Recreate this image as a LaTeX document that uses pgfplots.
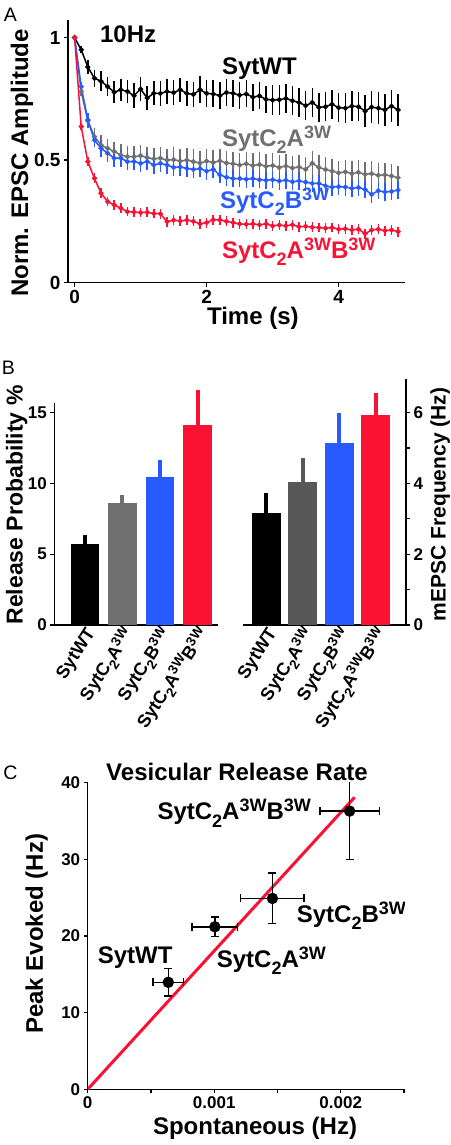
\documentclass[border=0pt]{standalone}
\usepackage{fontspec}
\setmainfont{Liberation Sans}
\usepackage{graphicx}
\usepackage{pgfplots}
\usepackage{pgfplotstable}
\pgfplotsset{compat=1.18}

\definecolor{cred}{RGB}{250,18,52}
\definecolor{cblue}{RGB}{40,90,255}
\definecolor{cgray}{RGB}{112,112,112}
\definecolor{cgrayd}{RGB}{88,88,88}

\newcommand{\sbs}[1]{\raisebox{-0.3em}{\scalebox{0.75}{#1}}}
\newcommand{\sps}[1]{\raisebox{0.33em}{\scalebox{0.75}{#1}}}
\newcommand{\WT}{SytWT}
\newcommand{\CA}{SytC\sbs{2}A\sps{3W}}
\newcommand{\CB}{SytC\sbs{2}B\sps{3W}}
\newcommand{\CAB}{SytC\sbs{2}A\sps{3W}B\sps{3W}}
\newcommand{\fs}[1]{\fontsize{#1}{#1}\selectfont\bfseries}

\pgfplotstableread{
t   wt    wte   a     ae    b     be    ab    abe
0.0 1.000 0.000 1.000 0.000 1.000 0.000 1.000 0.000
0.1 0.950 0.015 0.780 0.020 0.800 0.020 0.637 0.015
0.2 0.880 0.030 0.660 0.030 0.664 0.030 0.494 0.020
0.3 0.834 0.035 0.596 0.035 0.582 0.030 0.426 0.020
0.4 0.822 0.040 0.562 0.040 0.548 0.035 0.365 0.020
0.5 0.800 0.040 0.548 0.040 0.528 0.035 0.331 0.020
0.6 0.777 0.045 0.535 0.040 0.508 0.035 0.317 0.020
0.7 0.787 0.045 0.521 0.045 0.508 0.035 0.304 0.020
0.8 0.780 0.045 0.514 0.045 0.494 0.035 0.290 0.020
0.9 0.763 0.050 0.514 0.045 0.494 0.035 0.288 0.020
1.0 0.790 0.050 0.518 0.045 0.487 0.035 0.286 0.020
1.1 0.753 0.050 0.510 0.045 0.494 0.035 0.287 0.020
1.2 0.773 0.050 0.505 0.045 0.480 0.035 0.282 0.020
1.3 0.772 0.050 0.508 0.045 0.487 0.035 0.281 0.020
1.4 0.780 0.050 0.500 0.045 0.480 0.035 0.249 0.020
1.5 0.775 0.050 0.502 0.050 0.470 0.035 0.255 0.020
1.6 0.787 0.050 0.496 0.050 0.472 0.035 0.252 0.020
1.7 0.772 0.050 0.500 0.050 0.466 0.035 0.255 0.020
1.8 0.768 0.050 0.494 0.050 0.462 0.035 0.250 0.020
1.9 0.787 0.055 0.488 0.050 0.465 0.035 0.240 0.020
2.0 0.772 0.055 0.496 0.050 0.455 0.035 0.245 0.020
2.1 0.770 0.055 0.490 0.050 0.462 0.035 0.257 0.020
2.2 0.763 0.055 0.497 0.050 0.440 0.035 0.256 0.020
2.3 0.776 0.055 0.488 0.050 0.430 0.035 0.250 0.020
2.4 0.773 0.055 0.485 0.050 0.425 0.035 0.245 0.020
2.5 0.765 0.055 0.480 0.050 0.425 0.035 0.240 0.020
2.6 0.770 0.055 0.485 0.050 0.422 0.035 0.238 0.020
2.7 0.757 0.055 0.478 0.050 0.425 0.035 0.240 0.020
2.8 0.762 0.055 0.482 0.050 0.420 0.035 0.236 0.020
2.9 0.748 0.055 0.475 0.050 0.418 0.035 0.240 0.020
3.0 0.745 0.060 0.478 0.050 0.420 0.035 0.232 0.020
3.1 0.746 0.060 0.470 0.050 0.415 0.035 0.235 0.020
3.2 0.752 0.060 0.476 0.050 0.418 0.035 0.232 0.020
3.3 0.742 0.060 0.468 0.050 0.412 0.035 0.236 0.020
3.4 0.735 0.060 0.472 0.050 0.415 0.035 0.228 0.020
3.5 0.722 0.060 0.462 0.050 0.410 0.035 0.230 0.020
3.6 0.735 0.060 0.487 0.050 0.405 0.035 0.226 0.020
3.7 0.715 0.060 0.470 0.050 0.405 0.035 0.225 0.020
3.8 0.718 0.060 0.462 0.050 0.395 0.035 0.222 0.020
3.9 0.728 0.060 0.455 0.050 0.390 0.035 0.225 0.020
4.0 0.714 0.060 0.448 0.050 0.392 0.035 0.218 0.020
4.1 0.712 0.060 0.452 0.050 0.390 0.035 0.220 0.020
4.2 0.720 0.060 0.445 0.050 0.385 0.035 0.215 0.020
4.3 0.718 0.060 0.450 0.050 0.388 0.035 0.218 0.020
4.4 0.700 0.065 0.442 0.050 0.380 0.035 0.200 0.020
4.5 0.716 0.065 0.445 0.050 0.360 0.035 0.215 0.020
4.6 0.712 0.065 0.438 0.050 0.375 0.035 0.218 0.020
4.7 0.705 0.065 0.440 0.050 0.370 0.035 0.212 0.020
4.8 0.720 0.065 0.435 0.050 0.372 0.035 0.215 0.020
4.9 0.705 0.065 0.428 0.050 0.378 0.035 0.208 0.020
}\dataA

\pgfplotstableread{
x  y     e
0  5.70  0.65
1  8.60  0.57
2  10.47 1.18
3  14.15 2.45
}\dataBL

\pgfplotstableread{
x  y     e
0  3.15  0.57
1  4.03  0.68
2  5.13  0.85
3  5.92  0.64
}\dataBR

\pgfplotstableread{
x        y      ex        ey
0.000637 13.96  0.000122  1.8
0.001005 21.2   0.000180  1.3
0.001460 24.9   0.000250  3.3
0.002070 36.3   0.000234  6.3
}\dataC

\pgfplotsset{
  panel/.style={
    scale only axis, anchor=south west,
    axis x line*=bottom, axis y line*=left,
    axis line style={line width=1.3pt, -},
    tick style={line width=1.3pt, black},
    tick align=outside, major tick length=4pt,
    /pgf/number format/assume math mode=true,
    tick label style={font=\fs{17}},
    clip=false,
  },
  curve/.style={#1, line width=1.5pt, mark=*, mark size=1.8pt,
    error bars/.cd, y dir=both, y explicit, error mark=none,
    error bar style={line width=1.5pt, #1}},
  onebar/.style 2 args={ybar, bar width=#2, bar shift=0pt, fill=#1, draw=none,
    error bars/.cd, y dir=plus, y explicit, error mark=none,
    error bar style={line width=3.8pt, #1}},
}

\begin{document}
\begin{tikzpicture}
\path[use as bounding box] (0pt,0pt) rectangle (450pt,1145pt);

% ---------------- Panel A
\begin{axis}[panel, at={(68pt,862.3pt)}, width=336.7pt, height=262.3pt,
  xmin=-0.1, xmax=5.0, ymin=0, ymax=1.07, xtick={0,2,4}, ytick={0,0.5,1},
  tick label style={font=\fs{19}},
  xlabel={Time (s)}, ylabel={Norm. EPSC Amplitude},
  every axis x label/.style={at={(axis description cs:0.549,-0.135)}, anchor=center, font=\fs{24}},
  every axis y label/.style={at={(axis description cs:-0.137,0.456)}, anchor=center, rotate=90, font=\fs{24}},
]
\addplot[curve=black] table[x=t, y=wt, y error=wte] {\dataA};
\addplot[curve=cgray] table[x=t, y=a, y error=ae] {\dataA};
\addplot[curve=cblue] table[x=t, y=b, y error=be] {\dataA};
\addplot[curve=cred] table[x=t, y=ab, y error=abe] {\dataA};
\node[anchor=base west, font=\fs{24}] at (axis cs:0.333,0.981) {10Hz};
\node[anchor=base west, font=\fs{24}] at (axis cs:2.18,0.848) {\WT};
\node[anchor=base west, font=\fs{24}, text=cgray] at (axis cs:2.18,0.555) {\CA};
\node[anchor=base west, font=\fs{24}, text=cblue] at (axis cs:2.15,0.304) {\CB};
\node[anchor=base west, font=\fs{24}, text=cred] at (axis cs:2.18,0.100) {\CAB};
\end{axis}

% ---------------- Panel B left
\begin{axis}[panel, at={(54.3pt,520pt)}, width=164pt, height=222.3pt,
  xmin=-0.81, xmax=3.55, ymin=0, ymax=15.7, ytick={0,5,10,15},
  xtick={0,1,2,3}, xticklabels={\WT,\CA,\CB,\CAB},
  xtick style={draw=none},
  xticklabel style={rotate=57, anchor=east, font=\fs{18}, xshift=6pt, yshift=-7pt},
  ylabel={Release Probability \%},
  every axis y label/.style={at={(axis description cs:-0.229,0.54)}, anchor=center, rotate=90, font=\fs{23}},
]
\addplot[onebar={black}{28.5pt}] table[x=x, y=y, y error=e, restrict expr to domain={\thisrow{x}}{0:0}] {\dataBL};
\addplot[onebar={cgray}{28.5pt}] table[x=x, y=y, y error=e, restrict expr to domain={\thisrow{x}}{1:1}] {\dataBL};
\addplot[onebar={cblue}{28.5pt}] table[x=x, y=y, y error=e, restrict expr to domain={\thisrow{x}}{2:2}] {\dataBL};
\addplot[onebar={cred}{28.5pt}] table[x=x, y=y, y error=e, restrict expr to domain={\thisrow{x}}{3:3}] {\dataBL};
\end{axis}

% ---------------- Panel B right
\begin{axis}[panel, axis y line*=right, at={(243.3pt,520pt)}, width=162.7pt, height=245.7pt,
  xmin=-0.63, xmax=3.83, ymin=0, ymax=6.94, ytick={0,1,...,6}, yticklabels={0,,2,,4,,6},
  xtick={0,1,2,3}, xticklabels={\WT,\CA,\CB,\CAB},
  xtick style={draw=none},
  xticklabel style={rotate=57, anchor=east, font=\fs{18}, xshift=6pt, yshift=-7pt},
  ylabel={mEPSC Frequency (Hz)},
  every axis y label/.style={at={(axis description cs:1.21,0.491)}, anchor=center, rotate=90, font=\fs{21}},
]
\addplot[onebar={black}{29pt}] table[x=x, y=y, y error=e, restrict expr to domain={\thisrow{x}}{0:0}] {\dataBR};
\addplot[onebar={cgrayd}{29pt}] table[x=x, y=y, y error=e, restrict expr to domain={\thisrow{x}}{1:1}] {\dataBR};
\addplot[onebar={cblue}{29pt}] table[x=x, y=y, y error=e, restrict expr to domain={\thisrow{x}}{2:2}] {\dataBR};
\addplot[onebar={cred}{29pt}] table[x=x, y=y, y error=e, restrict expr to domain={\thisrow{x}}{3:3}] {\dataBR};
\end{axis}

% ---------------- Panel C
\begin{axis}[panel, clip=true, at={(87.7pt,55.7pt)}, width=316.3pt, height=306.6pt,
  xmin=0, xmax=0.0025, ymin=0, ymax=40, scaled x ticks=false,
  xtick={0,0.0005,0.001,0.0015,0.002,0.0025}, xticklabels={0,,0.001,,0.002,},
  ytick={0,10,20,30,40},
  xlabel={Spontaneous (Hz)}, ylabel={Peak Evoked (Hz)},
  title={Vesicular Release Rate},
  every axis title/.style={at={(axis description cs:0.472,1.036)}, anchor=center, font=\fs{24}},
  every axis x label/.style={at={(axis description cs:0.529,-0.127)}, anchor=center, font=\fs{24}},
  every axis y label/.style={at={(axis description cs:-0.161,0.507)}, anchor=center, rotate=90, font=\fs{24}},
]
\addplot[cred, line width=3pt] coordinates {(0,0) (0.00211,38.1)};
\addplot[black, only marks, mark=*, mark size=5.5pt,
  error bars/.cd, x dir=both, x explicit, y dir=both, y explicit, error mark=|,
  error bar style={line width=1.4pt, black},
  error mark options={line width=1.4pt, black, mark size=4pt, rotate=0}]
  table[x=x, y=y, x error=ex, y error=ey] {\dataC};
\node[anchor=base west, font=\fs{24}] at (axis cs:0.000524,35.15) {\CAB};
\node[anchor=base west, font=\fs{24}] at (axis cs:0.001625,21.8) {\CB};
\node[anchor=base west, font=\fs{24}] at (axis cs:0.000993,15.9) {\CA};
\node[anchor=base west, font=\fs{24}] at (axis cs:0.0000522,16.45) {\WT};
\end{axis}

\node[font=\fontsize{19.5}{19.5}\selectfont] at (10.5pt,1130pt) {A};
\node[font=\fontsize{19.5}{19.5}\selectfont] at (8.3pt,777.5pt) {B};
\node[font=\fontsize{19.5}{19.5}\selectfont] at (10.5pt,372.5pt) {C};
\end{tikzpicture}
\end{document}
